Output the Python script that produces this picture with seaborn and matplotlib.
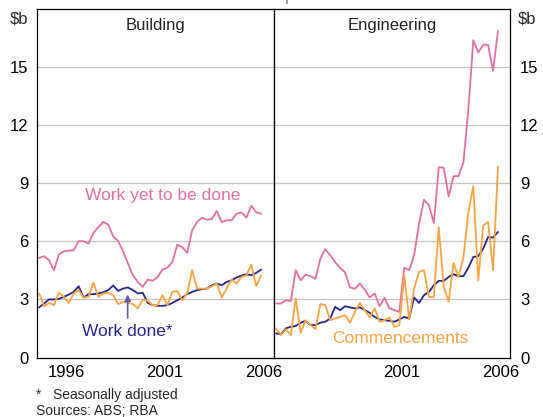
import numpy as np
import pandas as pd
import matplotlib
matplotlib.use('Agg')
import matplotlib.pyplot as plt
import seaborn as sns

# Quarterly data, 1995Q1 - 2006Q2 ($b)
quarters = pd.period_range('1995Q1', '2006Q2', freq='Q')
dates = quarters.year + (quarters.quarter - 0.5) / 4

bld_yet = [5.14, 5.23, 5.02, 4.50, 5.33, 5.48, 5.52, 5.53, 6.01, 6.00,
           5.88, 6.43, 6.73, 7.00, 6.86, 6.25, 6.01, 5.48, 4.85, 4.25,
           3.90, 3.65, 4.03, 3.96, 4.16, 4.54, 4.64, 4.93, 5.83, 5.70,
           5.40, 6.56, 6.99, 7.22, 7.11, 7.15, 7.56, 6.99, 7.08, 7.08,
           7.42, 7.49, 7.22, 7.83, 7.50, 7.42]
bld_done = [2.59, 2.79, 3.00, 3.00, 3.03, 3.13, 3.25, 3.39, 3.68, 3.10,
            3.27, 3.27, 3.31, 3.37, 3.48, 3.72, 3.44, 3.56, 3.62, 3.48,
            3.31, 3.34, 2.82, 2.71, 2.67, 2.67, 2.71, 2.82, 2.96, 3.10,
            3.27, 3.39, 3.48, 3.53, 3.56, 3.73, 3.82, 3.73, 3.90, 3.99,
            4.13, 4.23, 4.30, 4.25, 4.37, 4.54]
bld_comm = [3.31, 2.65, 2.82, 2.71, 3.36, 3.13, 2.82, 3.31, 3.48, 3.10,
            3.13, 3.87, 3.13, 3.31, 3.34, 3.22, 2.76, 2.88, 2.82, 2.76,
            2.54, 3.00, 2.93, 2.71, 2.71, 3.22, 2.71, 3.39, 3.43, 2.96,
            3.31, 4.51, 3.56, 3.56, 3.56, 3.68, 3.82, 3.10, 3.56, 4.03,
            3.82, 4.16, 4.25, 4.80, 3.68, 4.25]

eng_yet = [2.79, 2.79, 2.96, 2.91, 4.51, 3.99, 4.28, 4.20, 4.06, 5.10,
           5.59, 5.28, 4.93, 4.62, 4.40, 3.62, 3.55, 3.82, 3.50, 3.10,
           3.31, 2.65, 3.08, 2.54, 2.45, 2.36, 4.64, 4.51, 5.28, 6.91,
           8.14, 7.85, 6.94, 9.82, 9.79, 8.31, 9.36, 9.36, 10.08, 12.80,
           16.37, 15.74, 16.13, 16.13, 14.79, 16.85]
eng_done = [1.25, 1.20, 1.51, 1.59, 1.63, 1.80, 1.90, 1.68, 1.68, 1.80,
            1.85, 2.02, 2.62, 2.45, 2.65, 2.59, 2.54, 2.59, 2.45, 2.31,
            2.10, 1.97, 1.93, 1.90, 1.85, 1.97, 2.10, 2.02, 3.10, 2.82,
            3.22, 3.39, 3.73, 3.96, 3.96, 4.16, 4.30, 4.20, 4.20, 4.64,
            5.19, 5.23, 5.62, 6.22, 6.19, 6.48]
eng_comm = [1.51, 1.16, 1.46, 1.16, 3.05, 1.28, 1.93, 1.68, 1.46, 2.76,
            2.71, 1.93, 2.02, 2.10, 2.19, 1.80, 2.36, 2.82, 2.45, 2.07,
            2.54, 1.85, 1.93, 2.07, 1.59, 1.68, 4.25, 1.97, 3.56, 4.42,
            4.51, 3.13, 3.13, 6.73, 3.65, 2.88, 4.88, 4.16, 5.19, 7.50,
            8.83, 3.99, 6.82, 6.99, 4.51, 9.85]

series_names = ['Work yet to be done', 'Work done', 'Commencements']
palette = {'Work yet to be done': '#e36fa8',
           'Work done': '#26268c',
           'Commencements': '#f9a444'}


def long_frame(yet, done, comm):
    return pd.DataFrame({
        'date': np.tile(dates, 3),
        'value': np.concatenate([yet, done, comm]),
        'series': np.repeat(series_names, len(dates)),
    })


bld = long_frame(bld_yet, bld_done, bld_comm)
eng = long_frame(eng_yet, eng_done, eng_comm)

sns.set_theme(style='white')
plt.rcParams['font.family'] = ['Liberation Sans', 'DejaVu Sans']

fig, (ax1, ax2) = plt.subplots(1, 2, figsize=(5.43, 4.17), dpi=100, sharey=True)
fig.subplots_adjust(left=0.0676, right=0.9398, bottom=0.1424, top=0.9794, wspace=0)

for ax, df in [(ax1, bld), (ax2, eng)]:
    ax.set_xlim(1995, 2007)
    ax.set_ylim(0, 18)
    ax.set_yticks([0, 3, 6, 9, 12, 15])
    for v in [3, 6, 9, 12, 15]:
        ax.axhline(v, color='#c4c4c4', lw=0.9, zorder=0)
    sns.lineplot(data=df, x='date', y='value', hue='series', palette=palette,
                 ax=ax, legend=False, linewidth=1.3, zorder=3)
    ax.set_xlabel('')
    ax.set_ylabel('')
    for s in ax.spines.values():
        s.set_color('black')
        s.set_linewidth(0.9)
    ax.set_xticks(range(1996, 2007))
    ax.set_xticklabels([])
    ax.tick_params(axis='x', which='major', direction='in', length=3.5,
                   width=0.8, color='black')
    ax.tick_params(axis='y', length=0, labelsize=12, colors='black')

ax1.set_xticks([1996.5, 2001.5, 2006.5], minor=True)
ax1.set_xticklabels(['1996', '2001', '2006'], minor=True)
ax2.set_xticks([2001.5, 2006.5], minor=True)
ax2.set_xticklabels(['2001', '2006'], minor=True)
for ax in (ax1, ax2):
    ax.tick_params(axis='x', which='minor', length=0, labelsize=12,
                   pad=5, colors='black')

ax1.tick_params(axis='y', pad=6)
ax2.yaxis.tick_right()
ax2.tick_params(axis='y', which='both', length=0, pad=7, labelright=True)

ax1.set_title('Building', fontsize=12, y=0.95, va='top', color='#222222')
ax2.set_title('Engineering', fontsize=12, y=0.95, va='top', color='#222222')

fig.text(0.052, 0.955, '$b', fontsize=12, ha='right', va='center')
fig.text(0.953, 0.955, '$b', fontsize=12, ha='left', va='center')

# series labels
ax1.text(2001.4, 8.36, 'Work yet to be done', color=palette['Work yet to be done'],
         fontsize=12.5, ha='center', va='center')
ax1.text(1999.6, 1.33, 'Work done*', color=palette['Work done'],
         fontsize=12.5, ha='center', va='center')
ax1.annotate('', xy=(1999.61, 3.4), xytext=(1999.61, 1.9),
             arrowprops=dict(arrowstyle='-|>', color='#5c5cab', lw=1.2,
                             mutation_scale=9))
ax2.text(2001.42, 0.99, 'Commencements', color=palette['Commencements'],
         fontsize=12.5, ha='center', va='center')

# heading sits mostly above the top edge, only its lower edge shows
fig.text(0.51, 0.999, 'Current prices', fontsize=13, ha='center',
         va='baseline', color='#888888')

fig.text(0.067, 0.053, '*   Seasonally adjusted', fontsize=10, va='center')
fig.text(0.067, 0.014, 'Sources: ABS; RBA', fontsize=10, va='center')

fig.savefig('out.png', dpi=100)
